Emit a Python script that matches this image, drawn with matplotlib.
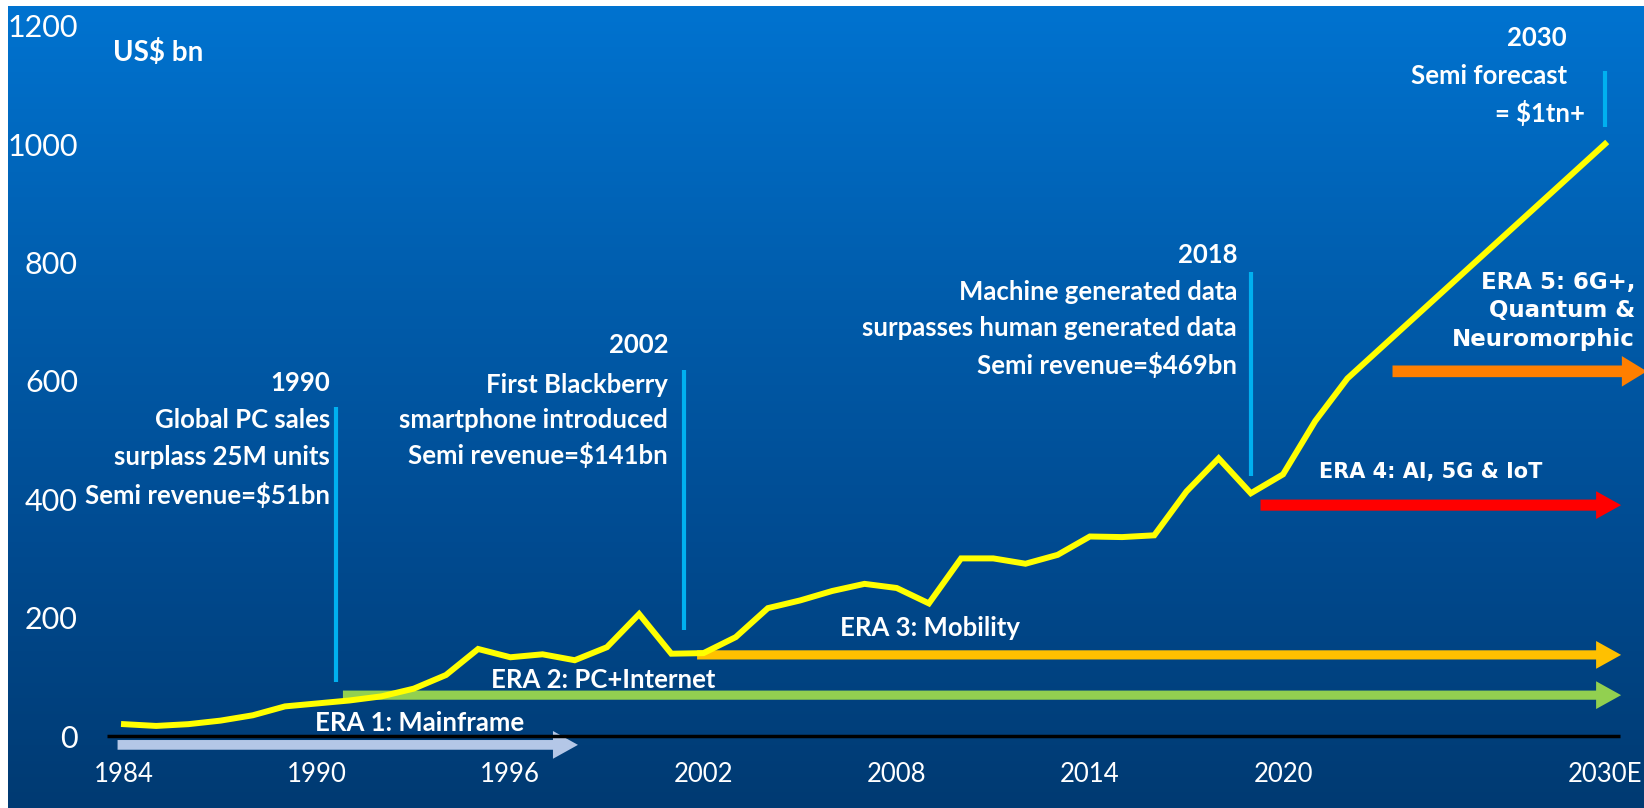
import matplotlib
matplotlib.use("Agg")
import matplotlib.pyplot as plt
import numpy as np
from matplotlib.colors import LinearSegmentedColormap

W, H = 1644, 808

# semiconductor revenue, US$ bn
years = [1984, 1985, 1986, 1987, 1988, 1989, 1990, 1991, 1992, 1993,
         1994, 1995, 1996, 1997, 1998, 1999, 2000, 2001, 2002, 2003,
         2004, 2005, 2006, 2007, 2008, 2009, 2010, 2011, 2012, 2013,
         2014, 2015, 2016, 2017, 2018, 2019, 2020, 2021, 2022, 2030]
revenue = [20, 17, 20, 26, 35, 50, 55, 60, 67, 80,
           103, 147, 133, 138, 128, 150, 206, 139, 140, 167,
           216, 229, 245, 257, 250, 224, 300, 300, 291, 306,
           337, 336, 339, 413, 469, 410, 442, 532, 604, 1000]

tick_years = [1984, 1990, 1996, 2002, 2008, 2014, 2020, 2030]
tick_labels = ["1984", "1990", "1996", "2002", "2008", "2014", "2020", "2030E"]
y_ticks = [0, 200, 400, 600, 800, 1000, 1200]

# eras: start / end year and level (US$ bn) of each arrow
era_start = [1983.8, 1990.8, 2001.8, 2019.3, 2023.4]
era_end = [1998.1, 2030.5, 2030.5, 2030.5, 2031.3]
era_level = [-15, 69, 137, 390, 616]
era_colors = ["#B4C7E7", "#92D050", "#FFC000", "#FF0000", "#FF7F00"]

# milestone markers (thin blue lines)
marker_years = [1990.6, 2001.4, 2019.0, 2030.0]
marker_low = [91, 179, 440, 1028]
marker_high = [555, 618, 783, 1124]

px_per_year = (1605 - 124) / 46
px_per_bn = 0.592
x_left = 1984 - 124 / px_per_year
x_right = x_left + W / px_per_year
y_bottom = -(H - 736) / px_per_bn
y_top = 736 / px_per_bn

TXT = ["Lato", "DejaVu Sans"]


def fxy(x, y):
    # pixel (from top left) -> figure fraction
    return x / W, 1 - y / H


fig = plt.figure(figsize=(W / 100, H / 100), dpi=100, facecolor="white")

# background gradient, leaving the thin white border top and left
bg = fig.add_axes([8 / W, 0, 1 - 8 / W, 1 - 6 / H])
bg.axis("off")
cmap = LinearSegmentedColormap.from_list("bg", ["#0073D0", "#005EAE", "#004B91", "#003A72"])
bg.imshow(np.linspace(0, 1, 256).reshape(-1, 1), aspect="auto", cmap=cmap,
          extent=[0, 1, 0, 1], origin="upper")

ax = fig.add_axes([0, 0, 1, 1])
ax.patch.set_alpha(0)
ax.set_xlim(x_left, x_right)
ax.set_ylim(y_bottom, y_top)
for s in ax.spines.values():
    s.set_visible(False)

ax.set_yticks(y_ticks)
ax.set_yticklabels([str(v) for v in y_ticks], family=TXT)
ax.set_xticks(tick_years)
ax.set_xticklabels(tick_labels, family=TXT)
ax.tick_params(axis="y", length=0, pad=-78 * 0.72, labelsize=22, labelcolor="white")
ax.tick_params(axis="x", length=0, pad=-46 * 0.72, labelsize=18.5, labelcolor="white")

# era arrows
styles = [(0.9, 1.0, 0.35), (0.9, 1.0, 0.33), (0.9, 1.0, 0.33), (0.9, 1.0, 0.4), (0.9, 1.1, 0.42)]
for s, e, lv, c, (hl, hw, tw) in zip(era_start, era_end, era_level, era_colors, styles):
    ax.annotate("", xy=(e, lv), xytext=(s, lv), annotation_clip=False,
                arrowprops=dict(arrowstyle=f"simple,head_length={hl},head_width={hw},tail_width={tw}",
                                mutation_scale=20, fc=c, ec="none", shrinkA=0, shrinkB=0))

# zero line
ax.hlines(0, 1983.47, 2030.47, color="black", lw=2.5, zorder=3)

# milestone lines
ax.vlines(marker_years, marker_low, marker_high, color="#00B0F0", lw=3, zorder=3)

# revenue line
ax.plot(years, revenue, color="#FFFF00", lw=4.3, solid_joinstyle="miter", zorder=5)

# labels
fig.text(*fxy(113, 52), "US$ bn", color="white", fontsize=20, family=TXT,
         weight="bold", va="center")


def block(lines, xr, ys, **kw):
    for t, y in zip(lines, ys):
        fig.text(*fxy(xr, y), t, color="white", fontsize=18.5, family=TXT,
                 weight="bold", ha="right", va="center", **kw)


block(["1990", "Global PC sales", "surplass 25M units", "Semi revenue=$51bn"],
      330, [383, 420, 457, 495])
block(["2002", "First Blackberry", "smartphone introduced", "Semi revenue=$141bn"],
      668, [345, 385, 420, 455])
block(["2018", "Machine generated data", "surpasses human generated data",
       "Semi revenue=$469bn"], 1237, [255, 292, 328, 365])
block(["2030", "Semi forecast"], 1567, [38, 76])
block(["= $1tn+"], 1585, [113])

for t, x, y in [("ERA 1: Mainframe", 315, 723), ("ERA 2: PC+Internet", 491, 680),
                ("ERA 3: Mobility", 840, 628)]:
    fig.text(*fxy(x, y), t, color="white", fontsize=18.5, family=TXT,
             weight="bold", va="center")

fig.text(*fxy(1319, 472), "ERA 4: AI, 5G & IoT", color="white", fontsize=15,
         family="DejaVu Sans", weight="bold", va="center")
for t, y in [("ERA 5: 6G+,", 283), ("Quantum &", 311), ("Neuromorphic", 339)]:
    fig.text(*fxy(1635, y), t, color="white", fontsize=16.5, family="DejaVu Sans",
             weight="bold", ha="right", va="center")

fig.savefig("out.png", dpi=100, facecolor="white")
